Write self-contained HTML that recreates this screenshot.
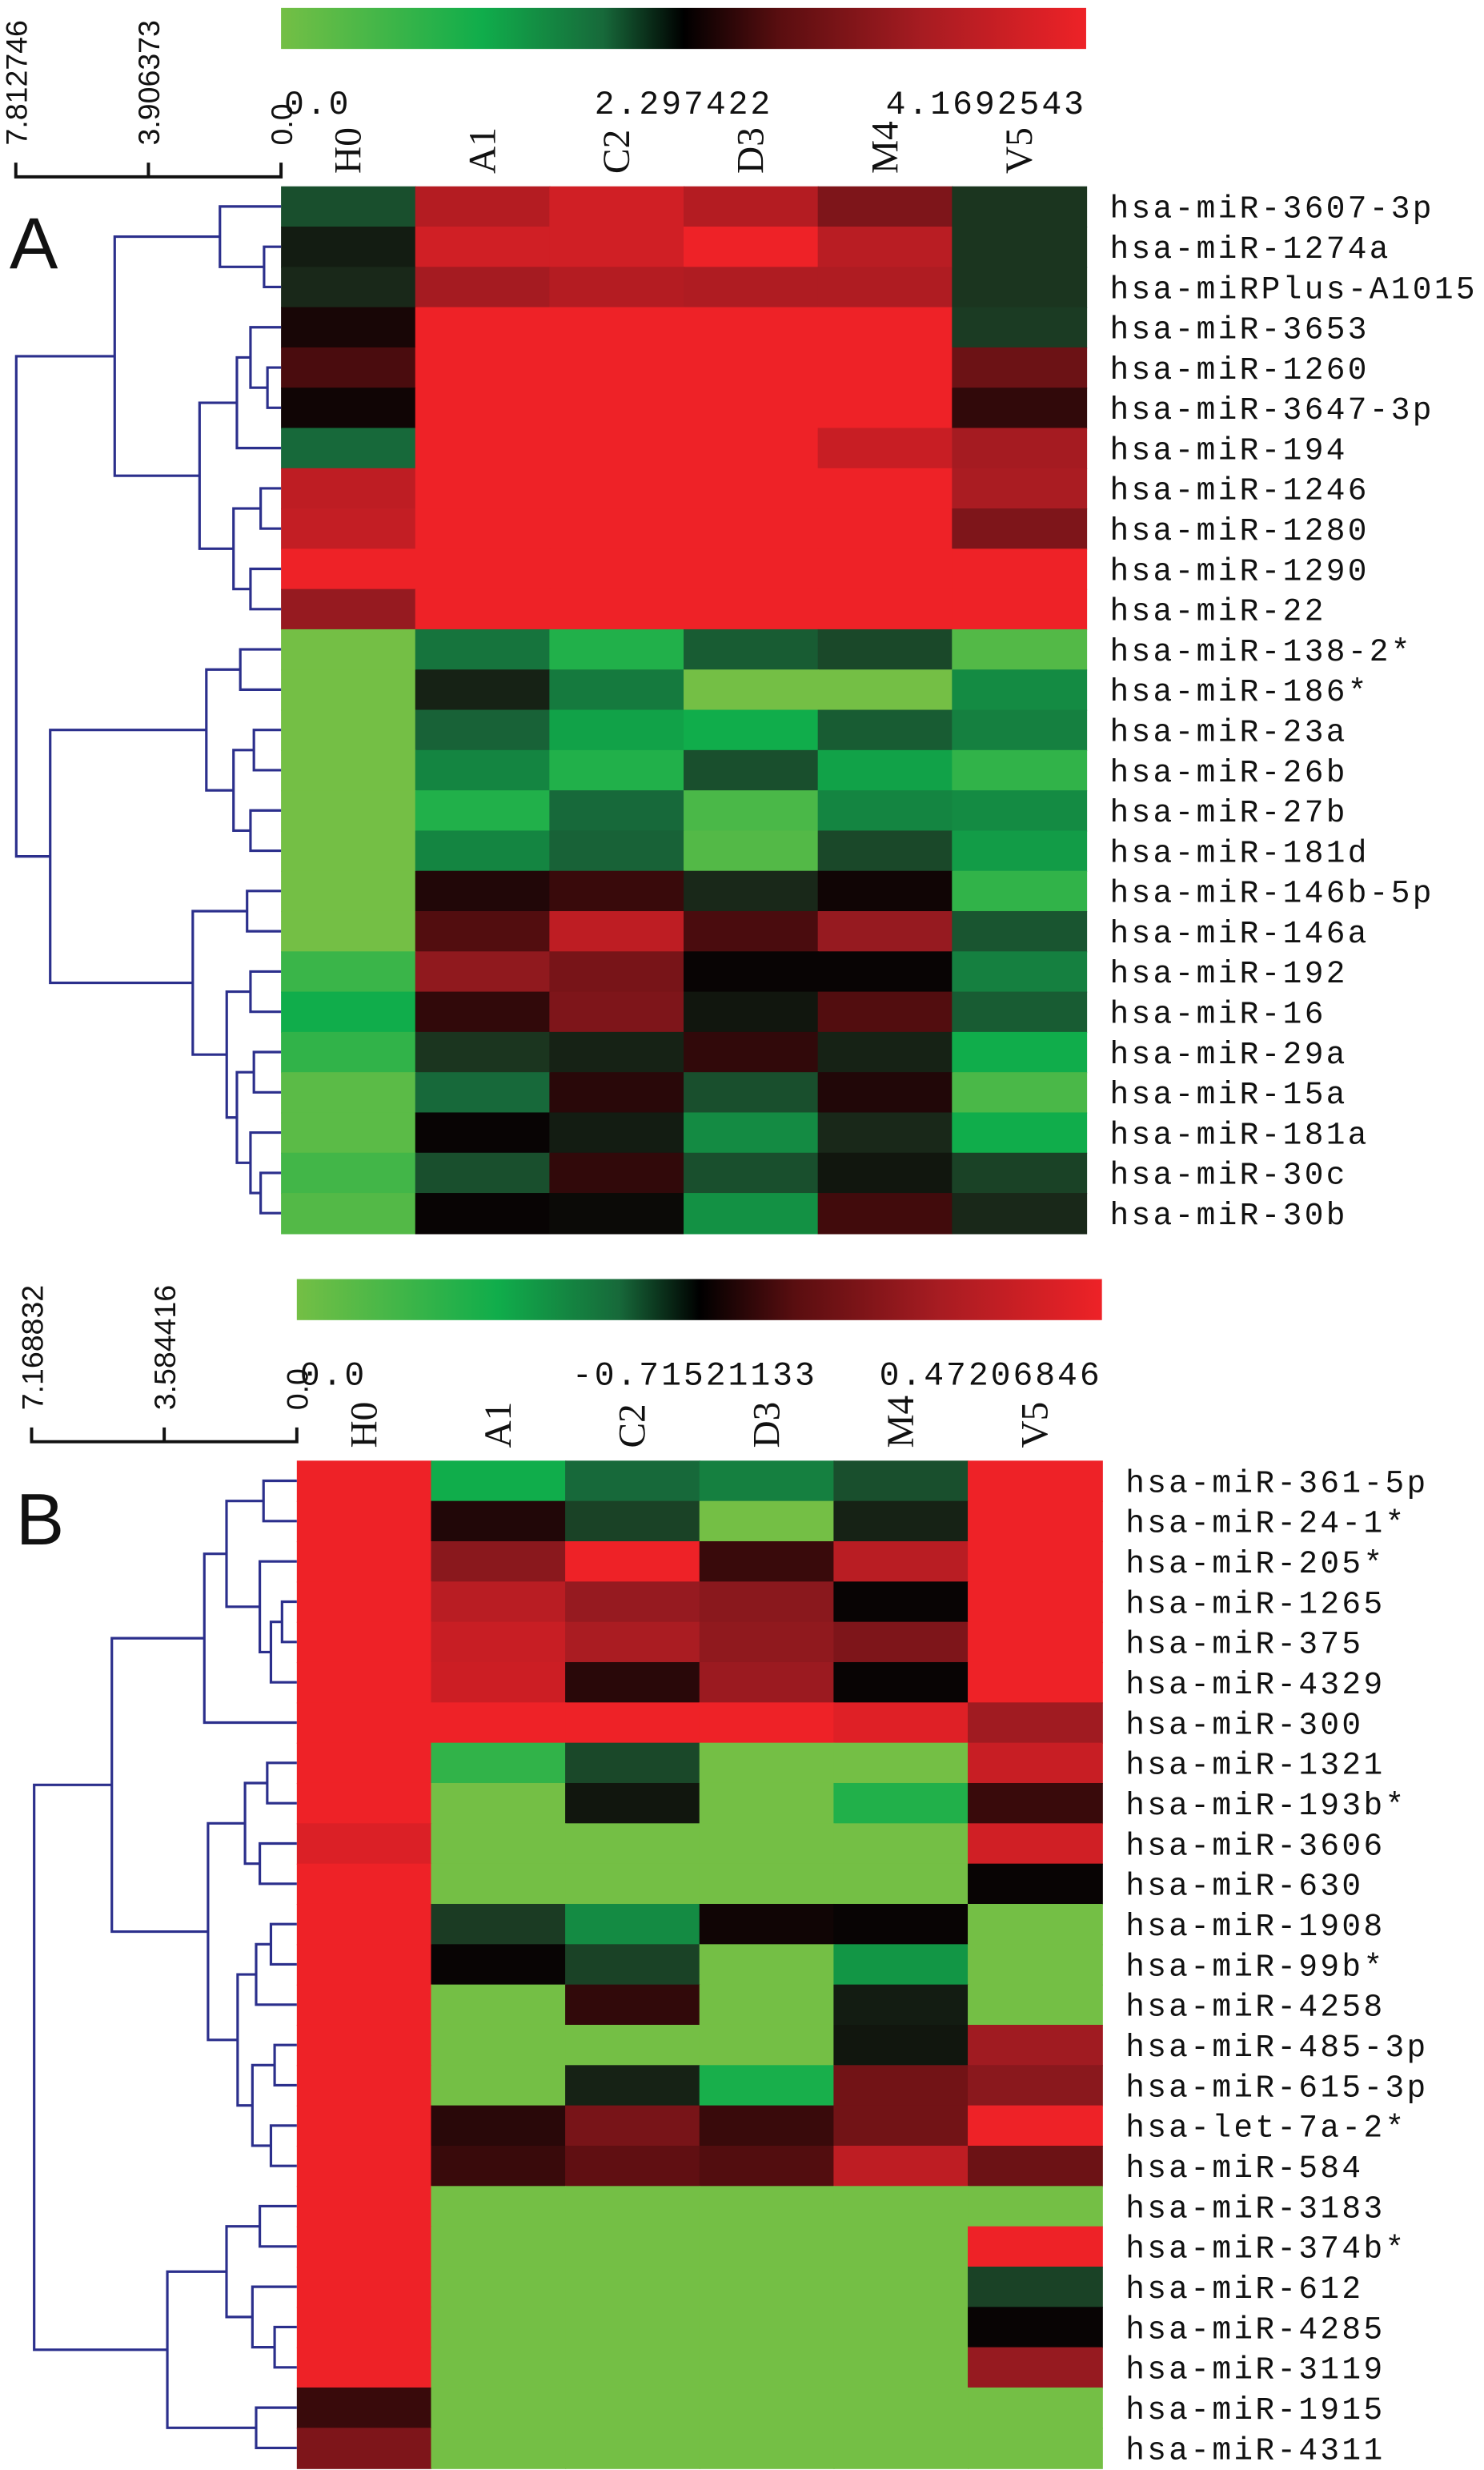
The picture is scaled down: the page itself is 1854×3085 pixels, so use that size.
<!DOCTYPE html>
<html><head><meta charset="utf-8"><style>
html,body{margin:0;padding:0;background:#fff;}
svg{display:block;}
text{fill:#111;}
</style></head><body>
<svg id="fig" width="1854" height="3085" viewBox="0 0 940 1564.2" xmlns="http://www.w3.org/2000/svg">
<defs>
<linearGradient id="cb" x1="0" x2="1" y1="0" y2="0">
<stop offset="0" stop-color="#74bf45"/><stop offset="0.25" stop-color="#10ad4b"/><stop offset="0.4" stop-color="#17693a"/>
<stop offset="0.5" stop-color="#000"/><stop offset="0.62" stop-color="#5a0e10"/><stop offset="0.8" stop-color="#a81c22"/><stop offset="1" stop-color="#ee2227"/>
</linearGradient>
</defs>
<g id="layer"></g>
</svg>
<script>
const columns = ["H0","A1","C2","D3","M4","V5"];
const rowsA = ["hsa-miR-3607-3p","hsa-miR-1274a","hsa-miRPlus-A1015","hsa-miR-3653","hsa-miR-1260","hsa-miR-3647-3p","hsa-miR-194","hsa-miR-1246","hsa-miR-1280","hsa-miR-1290","hsa-miR-22","hsa-miR-138-2*","hsa-miR-186*","hsa-miR-23a","hsa-miR-26b","hsa-miR-27b","hsa-miR-181d","hsa-miR-146b-5p","hsa-miR-146a","hsa-miR-192","hsa-miR-16","hsa-miR-29a","hsa-miR-15a","hsa-miR-181a","hsa-miR-30c","hsa-miR-30b"];
const valuesA = [
[-1.2,2.6,3.2,2.6,1.6,-0.8],[-0.4,3.2,3.2,4,2.7,-0.8],[-0.6,2.3,2.6,2.5,2.5,-0.8],
[0.2,4,4,4,4,-0.9],[0.8,4,4,4,4,1.3],[0.1,4,4,4,4,0.5],[-1.6,4,4,4,3.0,2.3],
[2.8,4,4,4,4,2.4],[2.9,4,4,4,4,1.6],[4,4,4,4,4,4],[2.0,4,4,4,4,4],
[-4,-1.8,-3.0,-1.4,-1.1,-3.6],[-4,-0.5,-1.9,-4,-4,-2.2],[-4,-1.5,-2.6,-2.8,-1.4,-2.0],
[-4,-2.1,-3.0,-1.2,-2.6,-3.2],[-4,-3.0,-1.6,-3.5,-2.1,-2.2],[-4,-2.1,-1.5,-3.6,-1.1,-2.5],
[-4,0.3,0.6,-0.6,0.1,-3.2],[-4,0.9,2.8,0.8,2.0,-1.3],[-3.3,1.9,1.5,0,0,-2.0],
[-2.8,0.5,1.6,-0.3,0.9,-1.4],[-3.2,-0.8,-0.5,0.5,-0.5,-2.8],[-3.7,-1.6,0.4,-1.2,0.3,-3.5],
[-3.7,0,-0.4,-2.2,-0.6,-2.8],[-3.4,-1.2,0.5,-1.2,-0.3,-1.0],[-3.6,0,-0.1,-2.3,0.7,-0.6]];
const rowsB = ["hsa-miR-361-5p","hsa-miR-24-1*","hsa-miR-205*","hsa-miR-1265","hsa-miR-375","hsa-miR-4329","hsa-miR-300","hsa-miR-1321","hsa-miR-193b*","hsa-miR-3606","hsa-miR-630","hsa-miR-1908","hsa-miR-99b*","hsa-miR-4258","hsa-miR-485-3p","hsa-miR-615-3p","hsa-let-7a-2*","hsa-miR-584","hsa-miR-3183","hsa-miR-374b*","hsa-miR-612","hsa-miR-4285","hsa-miR-3119","hsa-miR-1915","hsa-miR-4311"];
const valuesB = [
[4,-2.8,-1.6,-2.0,-1.2,4],[4,0.3,-1.0,-4,-0.5,4],[4,1.8,4,0.6,2.7,4],[4,2.7,2.0,1.8,0,4],
[4,3.0,2.4,1.9,1.6,4],[4,3.1,0.4,2.1,0,4],[4,4,4,4,3.6,2.2],[4,-3.2,-1.1,-4,-4,3.0],
[4,-4,-0.3,-4,-3.0,0.6],[3.5,-4,-4,-4,-4,3.2],[4,-4,-4,-4,-4,0],[4,-0.9,-2.2,0.1,0,-4],
[4,0,-1.0,-4,-2.4,-4],[4,-4,0.5,-4,-0.4,-4],[4,-4,-4,-4,-0.3,2.2],[4,-4,-0.5,-2.9,1.4,1.8],
[4,0.4,1.5,0.6,1.4,4],[4,0.6,1.1,0.9,2.8,1.3],[4,-4,-4,-4,-4,-4],[4,-4,-4,-4,-4,4],
[4,-4,-4,-4,-4,-1.0],[4,-4,-4,-4,-4,0],[4,-4,-4,-4,-4,2.0],[0.6,-4,-4,-4,-4,-4],[1.6,-4,-4,-4,-4,-4]];
const colorTicksA = ["0.0","2.297422","4.1692543"];
const colorTicksB = ["0.0","-0.71521133","0.47206846"];
const scaleTicksA = [7.812746, 3.906373, 0.0];
const scaleTicksB = [7.168832, 3.584416, 0.0];
const treeA = [[[0,[1,2,0.5],1.8],[[[3,[4,5,0.4],0.9],6,1.3],[[7,8,0.6],[9,10,0.9],1.4],2.4],4.9],
 [[[11,12,1.2],[[13,14,0.8],[15,16,0.9],1.4],2.2],[[17,18,1.0],[[19,20,0.9],[[21,22,0.8],[23,[24,25,0.6],0.9],1.3],1.6],2.6],6.8],7.8];
const treeB = [[[[[0,1,0.9],[2,[[3,4,0.4],5,0.7],1.0],1.9],6,2.5],[[[7,8,0.8],[9,10,1.0],1.4],[[[11,12,0.7],13,1.1],[[14,15,0.6],[16,17,0.7],1.2],1.6],2.4],5.0],
 [[[18,19,1.0],[20,[21,22,0.6],1.2],1.9],[23,24,1.1],3.5],7.1];

const stops=[[-4,[116,191,69]],[-2.8,[16,173,75]],[-1.6,[23,105,58]],[-0.7,[28,46,28]],[0,[8,4,4]],[1,[90,14,16]],[2,[150,26,32]],[3,[200,30,36]],[4,[238,34,39]]];
function color(v){v=Math.max(-4,Math.min(4,v));for(let i=0;i<stops.length-1;i++){const a=stops[i],b=stops[i+1];if(v<=b[0]){const t=(v-a[0])/(b[0]-a[0]);const c=a[1].map((x,k)=>Math.round(x+(b[1][k]-x)*t));return `rgb(${c})`;}}return "rgb(238,34,39)";}
const NS="http://www.w3.org/2000/svg";const layer=document.getElementById('layer');
const MONO='"Liberation Mono", monospace';
function el(tag,attrs,parent){const e=document.createElementNS(NS,tag);for(const k in attrs)e.setAttribute(k,attrs[k]);(parent||layer).appendChild(e);return e;}

function panel(cfg){
  const g=el('g',{});
  
  
  const cw=(cfg.x1-cfg.x0)/columns.length, rh=(cfg.y1-cfg.y0)/cfg.rows.length;
  const xCol=i=>cfg.x0+i*cw, yRow=i=>cfg.y0+i*rh;
  const cb=el('rect',{x:cfg.x0,y:cfg.cbY,width:cfg.x1-cfg.x0,height:26,fill:'url(#cb)'},g);
  
  
  const tpos=[[cfg.x0+2,'start'],[cfg.midX,'middle'],[cfg.x1,'end']];
  cfg.cticks.forEach((t,i)=>{const tx=el('text',{x:tpos[i][0],y:cfg.cbY+67,'font-family':MONO,'font-size':21,'letter-spacing':1.5,'text-anchor':tpos[i][1]},g);tx.textContent=t;
    
    });
  columns.forEach((c,i)=>{const cx=xCol(i)+cw/2;const tx=el('text',{x:0,y:0,'font-family':'"Liberation Serif", serif','font-size':24,'text-anchor':'start',transform:`translate(${cx+8},${cfg.y0-8}) rotate(-90)`},g);tx.textContent=c;
    
    });
  cfg.vals.forEach((row,r)=>row.forEach((v,c)=>{const rc=el('rect',{x:xCol(c),y:yRow(r),width:cw+0.6,height:rh+0.6,fill:color(v)},g);
    
    }));
  cfg.rows.forEach((n,r)=>{const tx=el('text',{x:cfg.x1+15,y:yRow(r)+rh/2+7,'font-family':MONO,'font-size':20,'letter-spacing':1.7},g);tx.textContent=n;
    
    });
  const hx=h=>cfg.x0-h*cfg.pxPerUnit;
  const sc=el('path',{d:`M${hx(cfg.sticks[0])} ${cfg.sY-9} V${cfg.sY} H${hx(0)} V${cfg.sY-9} M${hx(cfg.sticks[1])} ${cfg.sY} V${cfg.sY-9}`,stroke:'#111','stroke-width':2,fill:'none'},g);
  
  
  cfg.sticks.forEach(t=>{const tx=el('text',{x:0,y:0,'font-family':'"Liberation Sans", sans-serif','font-size':19,transform:`translate(${hx(t)+7},${cfg.sY-20}) rotate(-90)`},g);tx.textContent=(t===0?'0.0':String(t));
    
    });
  let d='';
  function walk(n){if(typeof n==='number')return{x:cfg.x0,y:yRow(n)+rh/2};const a=walk(n[0]),b=walk(n[1]);const x=hx(n[2]);d+=`M${a.x} ${a.y}H${x}V${b.y}H${b.x}`;return{x:x,y:(a.y+b.y)/2};}
  walk(cfg.tree);
  const tr=el('path',{d:d,stroke:'#2b2f8c','stroke-width':1.6,fill:'none'},g);
  
  
  const L=el('text',{x:cfg.letterX,y:cfg.letterY,'font-family':'"Liberation Sans", sans-serif','font-size':46},g);L.textContent=cfg.letter;
  
  
}
panel({name:'panel-a',x0:178,x1:688,y0:118,y1:781,cbY:5,midX:433,cticks:colorTicksA,rows:rowsA,vals:valuesA,sticks:scaleTicksA,sY:112,pxPerUnit:(178-10)/7.812746,tree:treeA,letter:'A',letterX:6,letterY:170});
panel({name:'panel-b',x0:188,x1:698,y0:925,y1:1563,cbY:810,midX:440,cticks:colorTicksB,rows:rowsB,vals:valuesB,sticks:scaleTicksB,sY:913,pxPerUnit:(188-20)/7.168832,tree:treeB,letter:'B',letterX:10,letterY:978});
</script>
</body></html>
